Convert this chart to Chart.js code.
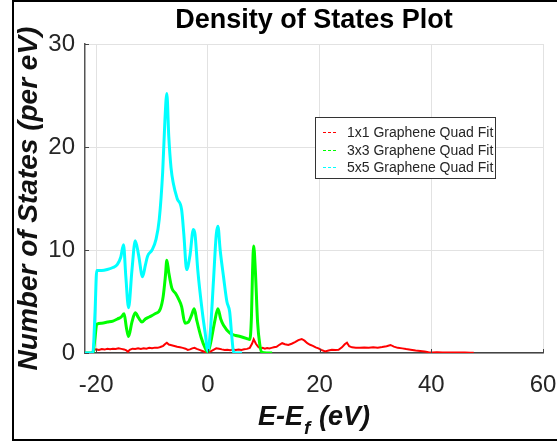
<!DOCTYPE html>
<html>
<head>
<meta charset="utf-8">
<script src="https://cdn.jsdelivr.net/npm/chart.js@4/dist/chart.umd.min.js"></script>
<style>
html,body{margin:0;padding:0;background:#fff;}
#wrap{position:relative;width:557px;height:442px;}
canvas{display:block;}
</style>
</head>
<body>
<div id="wrap"><canvas id="c" width="557" height="442"></canvas></div>
<script>
// ---- data ----
const seriesLabels = ["1x1 Graphene Quad Fit", "3x3 Graphene Quad Fit", "5x5 Graphene Quad Fit"];
const xTicks = [-20, 0, 20, 40, 60];
const yTicks = [0, 10, 20, 30];

const energy1x1 = [-20.8,-20.4,-20,-19.5,-19,-18.5,-18,-17.5,-17,-16.5,-16,-15.5,-15,-14.6,-14.3,-14,-13.5,-13,-12.5,-12,-11.5,-11,-10.5,-10,-9.5,-9,-8.5,-8,-7.6,-7.35,-7,-6.5,-6,-5.5,-5,-4.5,-4,-3.6,-3.2,-2.8,-2.4,-2,-1.5,-1,-0.5,0,0.5,1,1.5,2,2.5,3,3.5,4,4.5,5,5.5,6,6.5,7,7.5,7.9,8.2,8.6,9,9.4,9.8,10.2,10.6,11,11.4,11.8,12.3,12.8,13.3,13.8,14.4,15,15.6,16.2,16.8,17.3,17.8,18.3,18.8,19.3,19.8,20.3,21,21.6,22.2,22.8,23.4,24,24.5,24.9,25.3,25.8,26.5,27.2,28,28.8,29.6,30.4,31.2,32,32.7,33.3,34,34.8,35.5,36.3,37.2,38,38.8,39.5,40.2,41,42,43,44,45,46,47,47.6];
const dos1x1 = [0,0.3,0.35,0.3,0.38,0.33,0.4,0.36,0.42,0.38,0.45,0.4,0.35,0.25,0.12,0.3,0.42,0.38,0.45,0.4,0.47,0.42,0.5,0.46,0.52,0.5,0.58,0.7,0.9,1.0,0.82,0.75,0.68,0.6,0.55,0.5,0.42,0.3,0.35,0.45,0.5,0.4,0.3,0.2,0.1,0.05,0.15,0.3,0.45,0.42,0.35,0.3,0.32,0.28,0.33,0.3,0.35,0.3,0.36,0.4,0.5,0.9,1.33,0.9,0.6,0.45,0.5,0.42,0.48,0.44,0.5,0.55,0.6,0.8,0.95,0.85,0.78,0.9,1.05,1.25,1.36,1.2,0.95,0.8,0.7,0.55,0.45,0.3,0.15,0.25,0.32,0.28,0.32,0.55,0.85,1.0,0.65,0.55,0.52,0.5,0.53,0.5,0.55,0.52,0.58,0.65,0.78,0.62,0.5,0.45,0.38,0.32,0.25,0.2,0.15,0.08,0.06,0.07,0.05,0.06,0.04,0.05,0.04,0.03,0.03];

const energy3x3 = [-22,-20.6,-20.2,-19.9,-19,-18,-17,-16.2,-15.5,-15.0,-14.6,-14.2,-13.6,-13.0,-12.4,-11.8,-11.2,-10.5,-9.5,-8.5,-8.0,-7.6,-7.35,-7.0,-6.45,-5.8,-5.3,-4.7,-4.1,-3.5,-2.9,-2.45,-2.0,-1.2,-0.5,0,0.5,1.2,1.8,2.3,2.8,4.0,5.0,5.8,7.0,7.5,7.8,8.0,8.2,8.5,8.9,9.3,9.7,10.5,11.5];
const dos3x3 = [0,0,1.5,2.8,2.9,3.0,3.1,3.3,3.5,3.8,2.5,1.6,3.0,3.9,3.4,3.0,3.3,3.5,3.8,4.3,5.5,7.5,9.0,7.8,6.3,5.8,5.3,4.5,2.9,3.0,3.7,4.3,3.2,1.5,0.5,0.1,1.0,3.0,4.3,3.3,2.7,1.9,1.7,1.6,1.4,1.3,3.5,8.0,10.4,8.0,3.0,0.8,0.05,0,0];

const energy5x5 = [-22,-21,-20.6,-20.2,-19.9,-19,-18,-17,-16.2,-15.6,-15.1,-14.7,-14.2,-13.6,-13.0,-12.4,-11.7,-11.2,-10.8,-10.0,-9.3,-8.7,-8.1,-7.7,-7.35,-7.0,-6.6,-6.2,-5.5,-4.7,-4.3,-3.8,-3.2,-2.6,-2.3,-1.8,-1.0,-0.5,0,0.5,1.0,1.5,1.8,2.2,2.8,3.4,3.9,4.3,4.6,5,6.1];
const dos5x5 = [0,0,0,4,8.0,8.0,8.1,8.3,8.6,9.3,10.5,7.5,4.4,8.0,10.9,9.5,7.4,8.5,9.4,10.0,11.0,13.0,17.5,22.5,25.2,21.0,18.0,16.5,15.0,13.9,11.5,8.1,9.5,12.0,11.5,8.0,4.0,2.0,0.2,2.5,7.0,11.5,12.3,10.0,7.4,5.0,4.0,1.5,0.1,0,0];

const seriesColors = ["#ff0000", "#00ff00", "#00ffff"];
const FONT = "'Liberation Sans', Arial, Helvetica, sans-serif";

function pts(xs, ys){ return xs.map((x,i)=>({x:x, y:ys[i]})); }

const decor = {
  id:'decor',
  beforeDraw(chart){
    const ctx = chart.ctx;
    ctx.save();
    ctx.fillStyle = '#fff';
    ctx.fillRect(0,0,chart.width,chart.height);
    ctx.restore();
  },
  afterDraw(chart){
    const ctx = chart.ctx;
    const ca = chart.chartArea;
    const xs = chart.scales.x, ys = chart.scales.y;
    ctx.save();
    // inward ticks
    ctx.strokeStyle = '#444';
    ctx.lineWidth = 1;
    yTicks.forEach(v=>{
      const y = Math.round(ys.getPixelForValue(v))+0.5;
      ctx.beginPath(); ctx.moveTo(ca.left, y); ctx.lineTo(ca.left+4, y); ctx.stroke();
    });
    xTicks.forEach(v=>{
      const x = Math.round(xs.getPixelForValue(v))+0.5;
      ctx.beginPath(); ctx.moveTo(x, ca.bottom); ctx.lineTo(x, ca.bottom-4); ctx.stroke();
    });
    // legend box
    const lx = 315, ly = 117, lw = 180, lh = 61;
    ctx.fillStyle = '#fff';
    ctx.fillRect(lx, ly, lw, lh);
    ctx.strokeStyle = '#333';
    ctx.lineWidth = 1;
    ctx.strokeRect(lx+0.5, ly+0.5, lw, lh);
    ctx.font = '14px ' + FONT;
    ctx.textBaseline = 'middle';
    ctx.textAlign = 'left';
    seriesLabels.forEach((lab,i)=>{
      const yy = Math.round(ly + 15 + i*17.5);
      ctx.strokeStyle = seriesColors[i];
      ctx.lineWidth = 1;
      ctx.setLineDash([3,2]);
      ctx.beginPath(); ctx.moveTo(323, yy+0.5); ctx.lineTo(338, yy+0.5); ctx.stroke();
      ctx.setLineDash([]);
      ctx.fillStyle = '#262626';
      ctx.fillText(lab, 347, yy+1);
    });
    // x axis title with subscript
    const main = 'bold italic 27px ' + FONT;
    const sub = 'bold italic 19px ' + FONT;
    const p1 = 'E-E', p2 = 'f', p3 = ' (eV)';
    ctx.font = main; const w1 = ctx.measureText(p1).width; const w3 = ctx.measureText(p3).width;
    ctx.font = sub; const w2 = ctx.measureText(p2).width;
    const tot = w1 + w2 + w3 + 2;
    let sx = (ca.left + ca.right)/2 - tot/2;
    const base = 425;
    ctx.fillStyle = '#111';
    ctx.textBaseline = 'alphabetic';
    ctx.font = main; ctx.fillText(p1, sx, base); sx += w1 + 1;
    ctx.font = sub; ctx.fillText(p2, sx, base + 9); sx += w2 + 1;
    ctx.font = main; ctx.fillText(p3, sx, base);
    // outer frame
    ctx.strokeStyle = '#000';
    ctx.lineWidth = 2;
    ctx.beginPath();
    ctx.moveTo(560, 1); ctx.lineTo(13, 1); ctx.lineTo(13, 440); ctx.lineTo(560, 440);
    ctx.stroke();
    ctx.restore();
  }
};

new Chart(document.getElementById('c'), {
  type: 'line',
  data: {
    datasets: [
      { label: seriesLabels[0], data: pts(energy1x1, dos1x1), borderColor: seriesColors[0], borderWidth: 2, pointRadius: 0, tension: 0, order: 3 },
      { label: seriesLabels[1], data: pts(energy3x3, dos3x3), borderColor: seriesColors[1], borderWidth: 3, pointRadius: 0, cubicInterpolationMode: 'monotone', order: 2 },
      { label: seriesLabels[2], data: pts(energy5x5, dos5x5), borderColor: seriesColors[2], borderWidth: 3, pointRadius: 0, cubicInterpolationMode: 'monotone', order: 1 }
    ]
  },
  options: {
    responsive: false,
    animation: false,
    devicePixelRatio: 1,
    layout: { padding: { left: 0, right: 14, top: 0, bottom: 0 } },
    plugins: {
      legend: { display: false },
      tooltip: { enabled: false },
      title: {
        display: true,
        text: 'Density of States Plot',
        fullSize: false,
        color: '#000',
        font: { family: FONT, size: 27, weight: 'bold' },
        padding: { top: 4, bottom: 7.6 }
      }
    },
    scales: {
      x: {
        type: 'linear',
        min: -22, max: 60,
        afterBuildTicks: s => { s.ticks = xTicks.map(v=>({value:v})); },
        afterFit: s => { s.height = 89; s.paddingLeft = 0; s.paddingRight = 0; },
        grid: { color: '#e2e2e2', drawTicks: false, lineWidth: 1 },
        border: { color: '#444', width: 1.5 },
        ticks: { color: '#262626', font: { family: FONT, size: 24 }, padding: 18, maxRotation: 0, autoSkip: false },
        title: { display: false, text: 'E-E_f (eV)' }
      },
      y: {
        type: 'linear',
        min: 0, max: 30,
        afterBuildTicks: s => { s.ticks = yTicks.map(v=>({value:v})); },
        afterFit: s => { s.width = 85; s.paddingTop = 0; s.paddingBottom = 0; },
        grid: { color: '#e2e2e2', drawTicks: false, lineWidth: 1 },
        border: { color: '#555', width: 1.5 },
        ticks: { color: '#262626', font: { family: FONT, size: 24 }, padding: 10, autoSkip: false },
        title: {
          display: true,
          text: 'Number of States (per eV)',
          color: '#111',
          font: { family: FONT, size: 28, weight: 'bold', style: 'italic' },
          padding: { top: 12, bottom: 0 }
        }
      }
    }
  },
  plugins: [decor]
});
</script>
</body>
</html>
